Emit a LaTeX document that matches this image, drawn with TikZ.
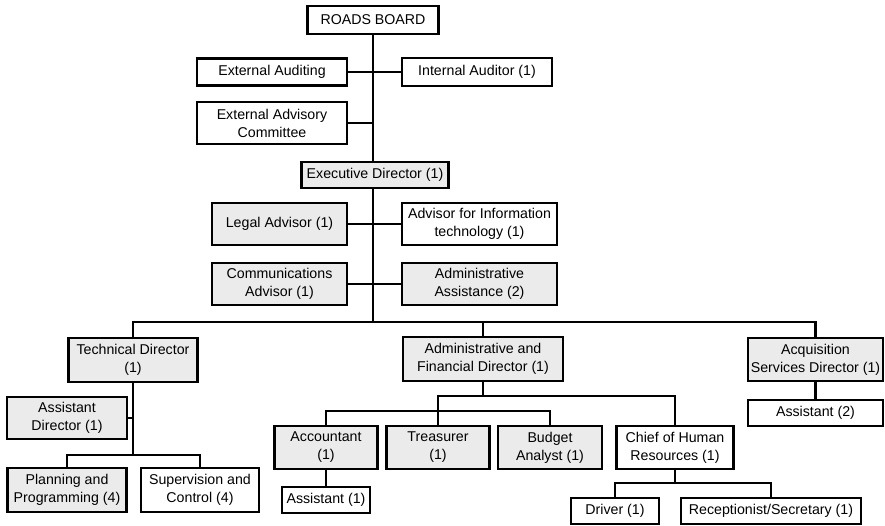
\documentclass[tikz,border=0pt]{standalone}
\usepackage{fontspec}
\setmainfont{Liberation Sans}
\begin{document}
\begin{tikzpicture}[x=1pt,y=-1pt,
  box/.style={draw=black, line width=2.1pt, fill=white, align=center, inner sep=1pt,
    font=\fontsize{14.2pt}{18pt}\selectfont, text=black},
  gbox/.style={box, fill=black!8},
  conn/.style={line width=2.1pt, draw=black}]
\useasboundingbox (0,0) rectangle (885,526);
% coordinates for free ends
\coordinate (bus) at (373,322);
\coordinate (eacj) at (373,123);
\coordinate (tdb) at (133,455);
\coordinate (fb1) at (483,396);
\coordinate (fb2) at (438,411);
\coordinate (hb) at (675,483);
% nodes
\node[box, minimum width=131pt, minimum height=28pt] (rb) at (373,20) {ROADS BOARD};
\node[box, minimum width=150pt, minimum height=27pt] (ea) at (272,72) {External Auditing};
\node[box, minimum width=150pt, minimum height=28pt] (ia) at (477,72) {Internal Auditor (1)};
\node[box, minimum width=150pt, minimum height=42pt] (eac) at (272,123) {External Advisory\\Committee};
\node[gbox, minimum width=147pt, minimum height=26pt] (ed) at (375,175) {Executive Director (1)};
\node[gbox, minimum width=135pt, minimum height=42pt] (la) at (279.5,224) {Legal Advisor (1)};
\node[box, minimum width=155pt, minimum height=42pt] (ait) at (479.5,224) {Advisor for Information\\technology (1)};
\node[gbox, minimum width=135pt, minimum height=42pt] (ca) at (279.5,284) {Communications\\Advisor (1)};
\node[gbox, minimum width=155pt, minimum height=42pt] (aa) at (479.5,284) {Administrative\\Assistance (2)};
\node[gbox, minimum width=129pt, minimum height=44pt] (td) at (133,360) {Technical Director\\(1)};
\node[gbox, minimum width=120pt, minimum height=42pt] (ad) at (67,418) {Assistant\\Director (1)};
\node[gbox, minimum width=119pt, minimum height=44pt] (pp) at (67,490) {Planning and\\Programming (4)};
\node[box, minimum width=118pt, minimum height=44pt] (sc) at (200,490) {Supervision and\\Control (4)};
\node[gbox, minimum width=160pt, minimum height=44pt] (afd) at (483,359) {Administrative and\\Financial Director (1)};
\node[gbox, minimum width=103pt, minimum height=43pt] (acc) at (326,447.5) {Accountant\\(1)};
\node[gbox, minimum width=103pt, minimum height=43pt] (tre) at (438,447.5) {Treasurer\\(1)};
\node[gbox, minimum width=104pt, minimum height=43pt] (bud) at (550,447.5) {Budget\\Analyst (1)};
\node[box, minimum width=117pt, minimum height=43pt] (chr) at (675,447.5) {Chief of Human\\Resources (1)};
\node[box, minimum width=88pt, minimum height=26pt] (acca) at (326,500) {Assistant (1)};
\node[box, minimum width=88pt, minimum height=26pt] (drv) at (615,511) {Driver (1)};
\node[box, minimum width=180pt, minimum height=26pt] (rec) at (771,511) {Receptionist/Secretary (1)};
\node[gbox, minimum width=135pt, minimum height=43pt] (asd) at (815.5,359.5) {Acquisition\\Services Director (1)};
\node[box, minimum width=135pt, minimum height=26pt] (as2) at (815.5,413) {Assistant (2)};
% connectors
\draw[conn] (rb.south) -- (rb.south |- ed.north);
\draw[conn] (ea.east) -- (ia.west);
\draw[conn] (eac.east) -- (eacj);
\draw[conn] (ed.south -| bus) -- (bus);
\draw[conn] (la.east) -- (ait.west);
\draw[conn] (ca.east) -- (aa.west);
\draw[conn] (td.north) |- (bus) -| (asd.north);
\draw[conn] (bus -| afd.north) -- (afd.north);
\draw[conn] (td.south) -- (tdb);
\draw[conn] (ad.east) -- (ad.east -| tdb);
\draw[conn] (pp.north) |- (tdb) -| (sc.north);
\draw[conn] (afd.south) -- (fb1);
\draw[conn] (tre.north) |- (fb1) -| (chr.north);
\draw[conn] (acc.north) |- (fb2) -| (bud.north);
\draw[conn] (acc.south) -- (acca.north);
\draw[conn] (chr.south) -- (hb);
\draw[conn] (drv.north) |- (hb) -| (rec.north);
\draw[conn] (asd.south) -- (as2.north);
\end{tikzpicture}
\end{document}
